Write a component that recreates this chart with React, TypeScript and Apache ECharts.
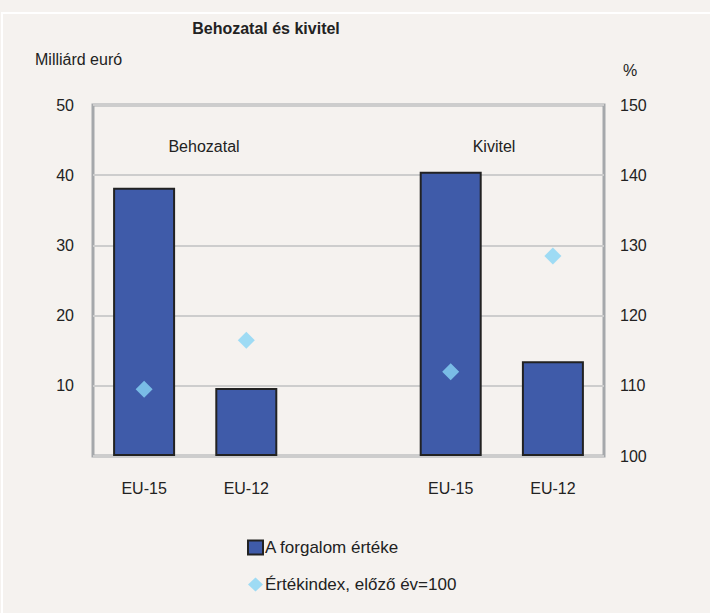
import React, { useEffect, useRef } from "react";
import * as echarts from "echarts";

const categories = ["EU-15", "EU-12", "", "EU-15", "EU-12"];
const forgalom = [38.2, 9.7, null, 40.5, 13.5];
const ertekindex = [109.5, 116.5, null, 112.0, 128.5];
const leftTicks = { min: 0, max: 50, interval: 10 };
const rightTicks = { min: 100, max: 150, interval: 10 };
const groupLabels = ["Behozatal", "Kivitel"];
const chartTitle = "Behozatal és kivitel";

const FONT = "'Liberation Sans Narrow', 'Arial Narrow', 'Liberation Sans', Arial, sans-serif";

export default function App() {
  const ref = useRef<HTMLDivElement>(null);
  useEffect(() => {
    document.body.style.margin = "0";
    const chart = echarts.init(ref.current!, undefined, { renderer: "svg" });
    chart.setOption({
      animation: false,
      backgroundColor: "#f5f2ef",
      textStyle: { fontFamily: FONT },
      graphic: [
        {
          type: "rect",
          shape: { x: 2, y: 13, width: 720, height: 620 },
          style: { fill: "none", stroke: "#ffffff", lineWidth: 2 },
          silent: true,
        },
        {
          type: "text",
          x: 266,
          y: 28,
          style: {
            text: chartTitle,
            font: `bold 16px ${FONT}`,
            fill: "#222",
            textAlign: "center",
            textVerticalAlign: "middle",
          },
        },
        {
          type: "text",
          left: 35,
          top: 51,
          style: { text: "Milliárd euró", font: `16px ${FONT}`, fill: "#222" },
        },
        {
          type: "text",
          left: 623,
          top: 62,
          style: { text: "%", font: `16px ${FONT}`, fill: "#222" },
        },
        {
          type: "text",
          x: 204,
          y: 146,
          style: { text: groupLabels[0], font: `16px ${FONT}`, fill: "#222", textAlign: "center", textVerticalAlign: "middle" },
        },
        {
          type: "text",
          x: 494,
          y: 146,
          style: { text: groupLabels[1], font: `16px ${FONT}`, fill: "#222", textAlign: "center", textVerticalAlign: "middle" },
        },
      ],
      grid: {
        left: 93,
        right: 106,
        top: 105,
        bottom: 157,
        show: true,
        borderColor: "#a5a8ab",
        borderWidth: 3,
        backgroundColor: "transparent",
      },
      legend: {
        orient: "vertical",
        left: 247,
        top: 539,
        padding: 0,
        itemGap: 20,
        itemWidth: 15,
        itemHeight: 14,
        textStyle: { fontFamily: FONT, fontSize: 17, color: "#222", padding: [0, 0, 0, -3] },
        data: [
          { name: "A forgalom értéke", icon: "rect" },
          { name: "Értékindex, előző év=100", icon: "diamond" },
        ],
      },
      xAxis: {
        type: "category",
        data: categories,
        axisLine: { show: false },
        axisTick: { show: false },
        axisLabel: { fontFamily: FONT, fontSize: 16, color: "#222", margin: 24 },
      },
      yAxis: [
        {
          type: "value",
          ...leftTicks,
          axisLine: { show: false },
          axisTick: { show: false },
          axisLabel: {
            fontFamily: FONT,
            fontSize: 16,
            color: "#222",
            margin: 19,
            formatter: (v: number) => (v === 0 ? "" : String(v)),
          },
          splitLine: { lineStyle: { color: "#cdcdcd", width: 2 } },
        },
        {
          type: "value",
          ...rightTicks,
          axisLine: { show: false },
          axisTick: { show: false },
          axisLabel: { fontFamily: FONT, fontSize: 16, color: "#222", margin: 16 },
          splitLine: { show: false },
        },
      ],
      series: [
        {
          name: "A forgalom értéke",
          type: "bar",
          data: forgalom,
          barWidth: 62,
          itemStyle: { color: "#3f5ba9", borderColor: "#222", borderWidth: 2 },
          z: 2,
        },
        {
          name: "Értékindex, előző év=100",
          type: "scatter",
          yAxisIndex: 1,
          data: ertekindex,
          symbol: "diamond",
          symbolSize: [17, 17],
          itemStyle: { color: "#88d4f5" },
          z: 3,
        },
      ],
    });
    return () => chart.dispose();
  }, []);
  return <div ref={ref} style={{ position: "fixed", left: 0, top: 0, width: 710, height: 613 }} />;
}
